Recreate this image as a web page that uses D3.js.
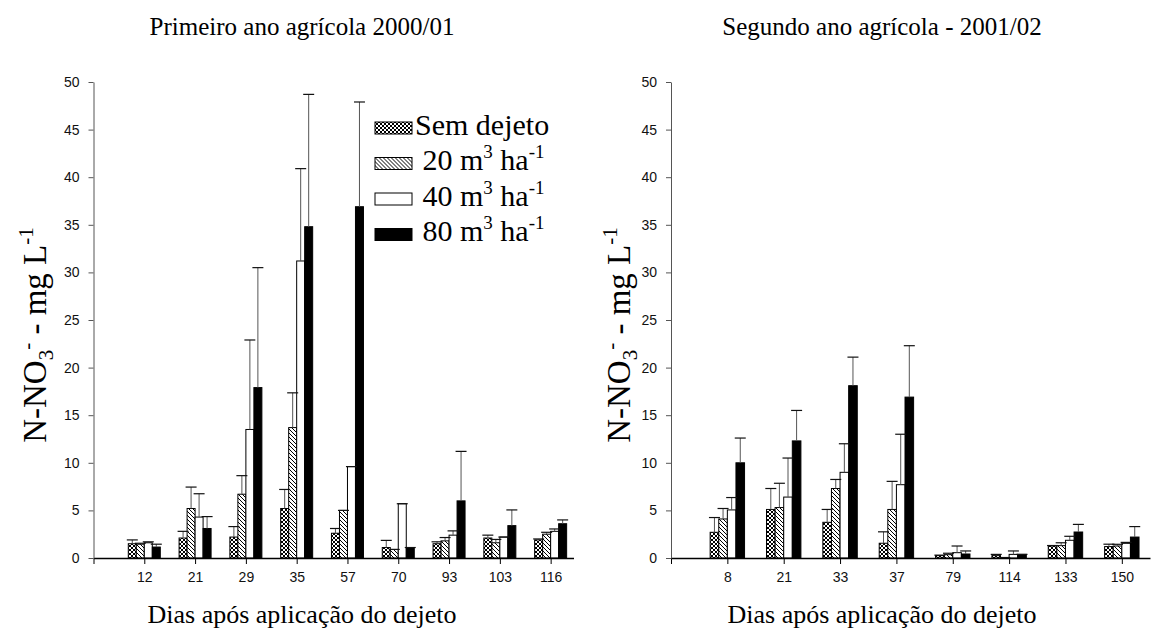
<!DOCTYPE html>
<html>
<head>
<meta charset="utf-8">
<script src="https://cdn.jsdelivr.net/npm/d3@7"></script>
<style>
  body { margin: 0; background: #fff; }
  svg { display: block; }
</style>
</head>
<body>
<svg id="chart" width="1154" height="635"></svg>
<script>
// Treatments (slurry doses)
const series = ["Sem dejeto", "20", "40", "80"];

// First season 2000/01 — days after slurry application
const daysA = ["12", "21", "29", "35", "57", "70", "93", "103", "116"];
const semA  = [1.5, 2.1, 2.2, 5.2, 2.6, 1.1, 1.5, 2.1, 1.9];
const d20A  = [1.45, 5.2, 6.7, 13.7, 5.0, 0.9, 1.8, 1.6, 2.5];
const d40A  = [1.6, 4.3, 13.5, 31.2, 9.6, 5.7, 2.4, 2.2, 2.8];
const d80A  = [1.15, 3.1, 17.9, 34.8, 36.9, 1.1, 6.0, 3.4, 3.6];
const semErrA = [0.4, 0.7, 1.1, 2.0, 0.5, 0.75, 0.2, 0.3, 0.1];
const d20ErrA = [0.1, 2.25, 1.95, 3.65, 0, 0, 0.35, 0.35, 0.2];
const d40ErrA = [0.1, 2.45, 9.4, 9.7, 0, 0, 0.45, 0, 0.25];
const d80ErrA = [0.3, 1.25, 12.6, 13.9, 11.0, 0, 5.2, 1.65, 0.4];

// Second season 2001/02
const daysB = ["8", "21", "33", "37", "79", "114", "133", "150"];
const semB  = [2.7, 5.1, 3.75, 1.55, 0.25, 0.25, 1.26, 1.2];
const d20B  = [4.1, 5.3, 7.3, 5.1, 0.35, 0.05, 1.3, 1.26];
const d40B  = [5.05, 6.4, 9.0, 7.7, 0.56, 0.38, 1.86, 1.54];
const d80B  = [10.0, 12.3, 18.1, 16.9, 0.42, 0.38, 2.73, 2.2];
const semErrB = [1.55, 2.2, 1.35, 1.2, 0.05, 0.13, 0.05, 0.25];
const d20ErrB = [1.1, 2.55, 0.95, 2.95, 0.15, 0, 0.3, 0.18];
const d40ErrB = [1.3, 4.1, 3.0, 5.3, 0.7, 0.36, 0.42, 0.1];
const d80ErrB = [2.6, 3.2, 3.0, 5.4, 0.32, 0, 0.8, 1.1];

const yTicks = d3.range(0, 51, 5);

const svg = d3.select("#chart");
const defs = svg.append("defs");

// cross-hatch fill
const pc = defs.append("pattern").attr("id", "cross")
  .attr("patternUnits", "userSpaceOnUse").attr("width", 4).attr("height", 4);
pc.append("rect").attr("width", 4).attr("height", 4).attr("fill", "#fff");
pc.append("path").attr("d", "M0,0L4,4M4,0L0,4M-1,1L1,-1M3,5L5,3M-1,3L1,5M3,-1L5,1")
  .attr("stroke", "#000").attr("stroke-width", 1);

// diagonal hatch fill
const ph = defs.append("pattern").attr("id", "hatch")
  .attr("patternUnits", "userSpaceOnUse").attr("width", 4).attr("height", 4);
ph.append("rect").attr("width", 4).attr("height", 4).attr("fill", "#fff");
ph.append("path").attr("d", "M0,0L4,4M-1,3L1,5M3,-1L5,1")
  .attr("stroke", "#000").attr("stroke-width", 1);

const fills = { "Sem dejeto": "url(#cross)", "20": "url(#hatch)", "40": "#fff", "80": "#000" };

const serif = "'Liberation Serif','Times New Roman',serif";
const sans = "'Liberation Sans',Arial,sans-serif";

const y = d3.scaleLinear().domain([0, 50]).range([558, 82]);

function panel(cfg) {
  const g = svg.append("g");
  const x = d3.scaleLinear().domain([0, cfg.end]).range(cfg.range);
  const inner = d3.scaleBand().domain(series).range([-cfg.gw / 2, cfg.gw / 2]);
  const bw = inner.bandwidth();

  const rows = [];
  cfg.days.forEach((d, i) => {
    series.forEach((s, k) => {
      rows.push({ i: i + 1, s, v: cfg.vals[k][i], e: cfg.errs[k][i] });
    });
  });

  // bars
  g.selectAll("rect.bar").data(rows).join("rect")
    .attr("class", "bar")
    .attr("x", d => x(d.i) + inner(d.s))
    .attr("y", d => y(d.v))
    .attr("width", bw)
    .attr("height", d => y(0) - y(d.v))
    .attr("fill", d => fills[d.s])
    .attr("stroke", "#000")
    .attr("stroke-width", 1);

  // error bars (upper only)
  const eb = g.selectAll("g.err").data(rows).join("g").attr("class", "err");
  eb.append("line")
    .attr("x1", d => x(d.i) + inner(d.s) + bw / 2)
    .attr("x2", d => x(d.i) + inner(d.s) + bw / 2)
    .attr("y1", d => y(d.v))
    .attr("y2", d => y(d.v + d.e))
    .attr("stroke", "#555").attr("stroke-width", 1);
  eb.append("line")
    .attr("x1", d => x(d.i) + inner(d.s) + bw / 2 - 5.5)
    .attr("x2", d => x(d.i) + inner(d.s) + bw / 2 + 5.5)
    .attr("y1", d => y(d.v + d.e))
    .attr("y2", d => y(d.v + d.e))
    .attr("stroke", "#111").attr("stroke-width", 1.2);

  // x axis
  const xa = g.append("g").attr("transform", `translate(0,${y(0)})`)
    .call(d3.axisBottom(x)
      .tickValues(d3.range(0, cfg.days.length + 1))
      .tickFormat(i => i === 0 ? "" : cfg.days[i - 1])
      .tickSizeInner(6).tickSizeOuter(0).tickPadding(8));
  xa.select(".domain").attr("stroke", "#000").attr("stroke-width", 1.3);
  xa.selectAll(".tick line").attr("stroke", "#000");
  xa.selectAll("text").attr("font-family", sans).attr("font-size", 14).attr("fill", "#111");

  // y axis
  const ya = g.append("g").attr("transform", `translate(${cfg.range[0]},0)`)
    .call(d3.axisLeft(y).tickValues(yTicks).tickSize(5).tickPadding(9).tickSizeOuter(0));
  ya.select(".domain").attr("stroke", "#555");
  ya.selectAll(".tick line").attr("stroke", "#555");
  ya.selectAll("text").attr("font-family", sans).attr("font-size", 14).attr("fill", "#111");

  // titles
  g.append("text").attr("x", cfg.cx).attr("y", 35)
    .attr("text-anchor", "middle").attr("font-family", serif).attr("font-size", 25)
    .text(cfg.title);
  g.append("text").attr("x", cfg.cx).attr("y", 623)
    .attr("text-anchor", "middle").attr("font-family", serif).attr("font-size", 26)
    .text("Dias após aplicação do dejeto");

  // y label: N-NO3- - mg L-1
  const yl = g.append("text")
    .attr("transform", `translate(${cfg.ylx},335) rotate(-90)`)
    .attr("text-anchor", "middle").attr("font-family", serif).attr("font-size", 33);
  yl.append("tspan").text("N-NO");
  yl.append("tspan").attr("font-size", 21).attr("dy", 7).text("3");
  yl.append("tspan").attr("font-size", 21).attr("dy", -19).text("-");
  yl.append("tspan").attr("dy", 12).text(" - mg L");
  yl.append("tspan").attr("font-size", 21).attr("dy", -13).text("-1");
}

panel({
  days: daysA, vals: [semA, d20A, d40A, d80A], errs: [semErrA, d20ErrA, d40ErrA, d80ErrA],
  end: 9.45, range: [93.5, 573.5], gw: 32, cx: 302, ylx: 46,
  title: "Primeiro ano agrícola 2000/01"
});
panel({
  days: daysB, vals: [semB, d20B, d40B, d80B], errs: [semErrB, d20ErrB, d40ErrB, d80ErrB],
  end: 8.5, range: [671, 1150], gw: 34.4, cx: 882, ylx: 630,
  title: "Segundo ano agrícola - 2001/02"
});

// legend
const legendItems = [
  { s: "Sem dejeto", label: ["Sem dejeto"] },
  { s: "20", label: [" 20 m", "3", " ha", "-1"] },
  { s: "40", label: [" 40 m", "3", " ha", "-1"] },
  { s: "80", label: [" 80 m", "3", " ha", "-1"] }
];
const lg = svg.append("g").attr("transform", "translate(375,122)");
legendItems.forEach((it, k) => {
  const row = lg.append("g").attr("transform", `translate(0,${k * 35.5})`);
  row.append("rect").attr("width", 37).attr("height", 12)
    .attr("fill", fills[it.s]).attr("stroke", "#000").attr("stroke-width", 1);
  const t = row.append("text").attr("x", 40).attr("y", 12.5)
    .attr("font-family", serif).attr("font-size", 30).attr("xml:space", "preserve");
  if (it.label.length === 1) {
    t.text(it.label[0]);
  } else {
    t.append("tspan").text(it.label[0]);
    t.append("tspan").attr("font-size", 19).attr("dy", -12).text(it.label[1]);
    t.append("tspan").attr("dy", 12).text(it.label[2]);
    t.append("tspan").attr("font-size", 19).attr("dy", -12).text(it.label[3]);
  }
});
</script>
</body>
</html>
